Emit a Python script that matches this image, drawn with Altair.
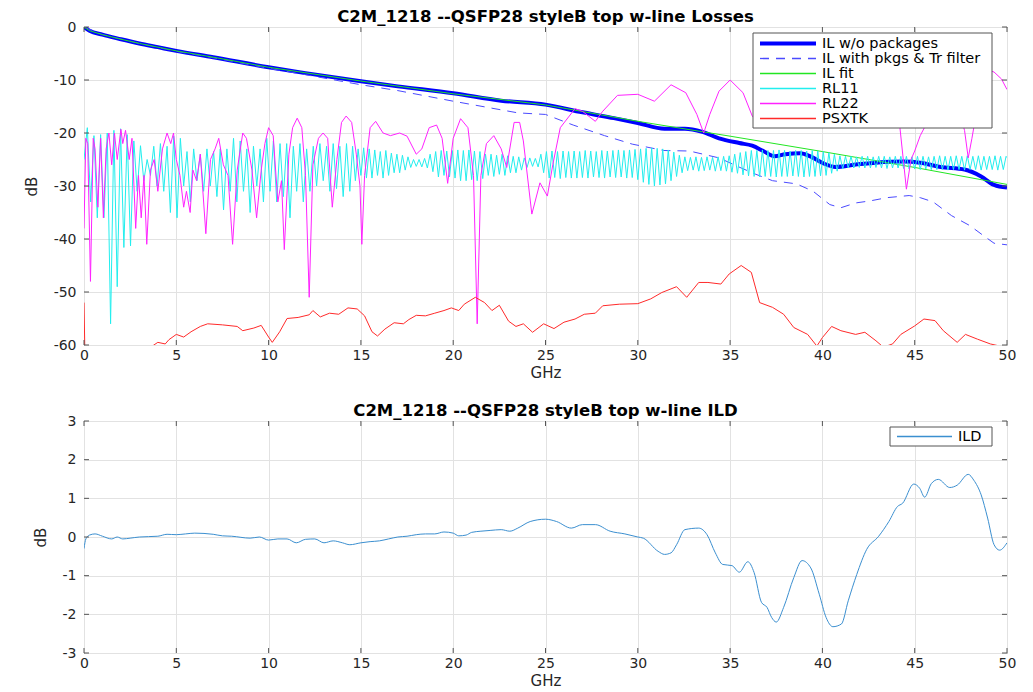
import altair as alt
import pandas as pd

# ---------------- data ----------------
X_TICKS = [0, 5, 10, 15, 20, 25, 30, 35, 40, 45, 50]
TOP_Y_TICKS = [-60, -50, -40, -30, -20, -10, 0]
BOT_Y_TICKS = [-3, -2, -1, 0, 1, 2, 3]

TOP_TITLE = "C2M_1218 --QSFP28 styleB top w-line Losses"
BOT_TITLE = "C2M_1218 --QSFP28 styleB top w-line ILD"

# (GHz, dB)
IL_NOPKG = [(0, 0), (0.3, -0.7), (1, -1.45), (2, -2.3), (3, -3.1), (4, -3.8), (5, -4.5),
            (7, -5.7), (10, -7.6), (12, -8.7), (15, -10.25), (17, -11.2), (20, -12.5),
            (22.6, -13.9), (25, -14.65), (27, -16.1), (28.7, -17.2), (30, -18.1),
            (31.45, -19.2), (32.55, -19.2), (33.5, -19.8), (34.4, -21.0), (35.5, -21.9),
            (36.2, -22.4), (36.8, -23.4), (37.4, -24.4), (38.0, -24.0), (38.8, -23.8),
            (39.4, -24.5), (40.1, -25.8), (40.7, -26.4), (41.9, -25.9), (42.9, -25.6),
            (44.4, -25.4), (45.3, -25.6), (46.4, -26.4), (47.7, -26.9), (48.6, -28.2),
            (49.3, -29.8), (50, -30.3)]

IL_PKG = [(0, 0), (1, -1.45), (3, -3.1), (5, -4.6), (7, -5.8), (10, -7.8), (12, -9.0),
          (15, -10.9), (17, -12.0), (20, -14.0), (23.5, -16.2), (25, -16.5), (26.5, -18.5),
          (28.2, -20.5), (29.7, -22.1), (31.4, -23.3), (32.8, -23.4), (34.4, -24.7),
          (35.6, -26.6), (36.4, -27.8), (37.3, -29.0), (38.6, -29.6), (39.5, -31.0),
          (40.4, -33.5), (41.0, -34.1), (41.8, -33.2), (42.6, -32.8), (43.5, -32.2),
          (44.7, -31.8), (45.3, -32.2), (46.0, -33.0), (47.0, -35.6), (48.0, -37.5),
          (48.7, -39.3), (49.3, -40.8), (50, -41.1)]

IL_FIT = [(0, 0), (0.3, -0.7), (1, -1.45), (2, -2.3), (3, -3.1), (5, -4.5), (7, -5.7),
          (10, -7.6), (15, -10.2), (20, -12.6), (25, -14.7), (30, -17.8), (35, -20.6),
          (40, -23.5), (45, -26.5), (50, -29.7)]

# RL11 ripple, alternating peaks and troughs.
# Low band: one value every 0.18 GHz from 0 GHz.
RL11_LOW_STEP = 0.18
RL11_LOW = [
    -25, -19, -33, -20.5, -36, -20.3, -36, -20, -56, -19.5, -49, -19.2, -41.6, -20.3, -41.3, -21.5, -31, -22.4, -29, -25,
    -28, -22.5, -30, -22, -31, -22.5, -35, -20.6, -36, -21, -30, -23.5, -33, -23, -29, -24, -31, -23, -30, -23.5,
    -32, -23, -34.5, -23, -31, -21, -33, -21.5, -31, -23, -35, -22.5, -30, -23, -33, -21, -31, -21.5, -33, -22,
    -32, -22, -36, -22.5, -31, -22, -33, -23, -31, -22.5, -30, -22, -29, -22.5, -31, -22, -30.5, -22.5, -32, -22,
    -31,
]
# High band: one value every 0.15 GHz from 14.55 GHz.
RL11_HIGH_START = 14.55
RL11_HIGH_STEP = 0.15
RL11_HIGH = [
    -22.5, -29, -23, -28, -22.8, -28.5, -23, -28.5, -23.2, -28, -23.5, -28.5, -23.3, -28, -23.8, -27.5, -24, -27.5, -24.2, -27,
    -24.5, -26.5, -25, -26.3, -25, -26.4, -24.8, -26.6, -24, -27.3, -23.5, -28.3, -23.3, -28, -23.4, -28.3, -23.3, -28.5, -23.2, -29,
    -23.3, -29, -23.2, -28.8, -23.4, -29, -23.5, -28.6, -24, -28, -24, -28.2, -24.2, -27.8, -24, -28, -24.3, -27.5, -24.4, -27.5,
    -24.5, -27, -24.7, -26.5, -24.7, -26.3, -24.8, -26.4, -24, -27.5, -23.5, -28.5, -23.4, -28.4, -23.5, -28.6, -23.4, -28.4, -23.5, -28.5,
    -23.4, -28.5, -23.5, -28.4, -23.3, -28.5, -23.4, -28.3, -23.5, -28.4, -23.3, -28.5, -23.4, -28.3, -23.3, -28.4, -23.2, -28.3, -23.3, -28.5,
    -23.2, -28.4, -23.1, -28.8, -23, -29.3, -22.9, -29.7, -22.8, -30, -22.9, -29.8, -23, -29.6, -23.2, -29, -23.6, -28.2, -24.2, -27.5,
    -24.5, -27.1, -24.6, -27, -24.5, -27.2, -24.6, -27.1, -24.5, -27, -24.6, -27.2, -24.5, -27.1, -24.4, -27.2, -24.3, -27.4, -24, -27.6,
    -23.7, -27.9, -23.5, -28.1, -23.3, -28.2, -23.3, -28.3, -23.2, -28.2, -23.3, -28.2, -23.3, -28.3, -23.2, -28.2, -23.3, -28.2, -23.4, -28.1,
    -23.3, -28.2, -23.3, -28.3, -23.4, -28.2, -23.3, -28.2, -23.4, -28.1, -23.5, -28, -23.7, -27.6, -24, -27.2, -24.3, -26.8, -24.4, -26.6,
    -24.4, -26.6, -24.5, -26.5, -24.4, -26.6, -24.4, -26.6, -24.5, -26.5, -24.4, -26.6, -24.4, -26.7, -24.5, -26.6, -24.4, -26.6, -24.4, -26.7,
    -24.4, -26.8, -24.5, -26.8, -24.4, -26.9, -24.4, -26.8, -24.5, -26.9, -24.4, -26.9, -24.3, -26.9, -24.4, -27, -24.4, -26.9, -24.3, -26.9,
    -24.4, -27, -24.3, -26.9, -24.4, -26.9, -24.3, -27, -24.4, -26.9, -24.4, -26.9, -24.3, -27, -24.4, -26.9, -24.4, -25,
]

RL22 = [(0.0, -38), (0.1, -21), (0.2, -22), (0.35, -48), (0.5, -21), (0.6, -23), (0.75, -34),
        (0.9, -21), (1.05, -36), (1.2, -23), (1.35, -20), (1.5, -26), (1.65, -20), (1.8, -25),
        (2.0, -19.3), (2.1, -22), (2.25, -19.5), (2.45, -25), (2.6, -21), (2.8, -38), (2.95, -28),
        (3.1, -36), (3.25, -28), (3.4, -41), (3.6, -27), (3.8, -25), (4.0, -31), (4.25, -23),
        (4.5, -20), (4.7, -22), (4.85, -20), (5.0, -25), (5.2, -28), (5.4, -34), (5.55, -31),
        (5.75, -35), (5.9, -27), (6.1, -29), (6.3, -24), (6.6, -39), (6.85, -25), (7.1, -23),
        (7.3, -21), (7.55, -26), (7.8, -28), (8.05, -41), (8.3, -27), (8.6, -20), (8.8, -21),
        (9.1, -27), (9.35, -36), (9.6, -27), (9.8, -22), (10.0, -19), (10.25, -20.5), (10.5, -33),
        (10.7, -29), (10.85, -42), (11.1, -24), (11.3, -19), (11.55, -17.2), (11.8, -19),
        (12.0, -28), (12.2, -51), (12.4, -26), (12.7, -21), (12.95, -20), (13.2, -21),
        (13.45, -34), (13.7, -25), (13.95, -18), (14.2, -16.8), (14.5, -18), (14.75, -24),
        (14.95, -30), (15.05, -41), (15.2, -28), (15.5, -19), (15.8, -17.8), (16.2, -20),
        (16.6, -20.5), (17.1, -20), (17.5, -20.6), (18.0, -24), (18.3, -23), (18.7, -19),
        (19.1, -18.5), (19.4, -21), (19.7, -29.5), (20.0, -21), (20.4, -17.3), (20.8, -19),
        (21.1, -28), (21.3, -56), (21.5, -28), (21.8, -22), (22.2, -20.5), (22.6, -23),
        (22.9, -26.5), (23.3, -18), (23.6, -18), (23.8, -21.5), (24.26, -35.3), (24.7, -29.4),
        (25.1, -31.9), (25.4, -25.9), (25.8, -19), (26.6, -15.4), (27.0, -15.9), (27.7, -17.8),
        (28.1, -15.9), (28.9, -12.9), (30.0, -12.7), (30.9, -14), (31.8, -10.9), (32.6, -12.4),
        (33.2, -16.5), (33.57, -20), (33.9, -16.5), (34.4, -12.1), (35.0, -10), (35.7, -12.4),
        (36.2, -16.8), (36.6, -18.5), (37.2, -14), (38.0, -10.5), (38.8, -9.5), (39.5, -12),
        (40.1, -17), (40.6, -13), (41.4, -9), (42.3, -8.5), (43.1, -11), (43.8, -15.5),
        (44.2, -19), (44.55, -30.6), (44.8, -25), (45.0, -23.4), (45.3, -20.5), (45.6, -18.5),
        (46.2, -15), (46.8, -13), (47.4, -16), (47.7, -19.5), (47.9, -24.7), (48.1, -21),
        (48.3, -17), (48.6, -10), (48.9, -8), (49.3, -8.5), (49.7, -9.8), (50.0, -11.8)]

PSXTK = [(0, -52), (0.05, -62), (3.7, -60.2), (4.0, -59.5), (4.4, -59.8), (4.6, -59), (5.0, -58),
         (5.4, -58.5), (5.8, -57.5), (6.3, -56.5), (6.7, -56), (7.5, -56.2), (8.3, -56.5),
         (8.6, -57.3), (9.2, -56.8), (9.6, -56.3), (10.0, -58.5), (10.2, -59.5), (10.6, -57.5),
         (11.0, -55), (11.6, -54.8), (12.2, -54.3), (12.4, -53.5), (12.8, -54.7), (13.3, -54),
         (13.8, -54.2), (14.3, -53), (14.8, -53.2), (15.2, -54.5), (15.6, -57.5), (15.9, -58.3),
         (16.3, -57), (16.8, -55.8), (17.3, -56), (17.6, -55.2), (18.0, -54.4), (18.5, -54.5),
         (19.0, -54), (19.5, -53.5), (19.9, -53), (20.3, -53.5), (20.6, -52.3), (21.2, -51),
         (21.7, -52), (22.1, -53.5), (22.5, -52.5), (23.0, -55.5), (23.4, -56.5), (23.8, -56),
         (24.3, -57.6), (24.9, -56), (25.46, -56.9), (26.0, -55.7), (26.6, -55.1), (27.1, -54.2),
         (27.7, -54), (28.1, -52.6), (29.0, -52.3), (30.0, -52.2), (30.7, -51.3), (31.3, -50.1),
         (32.1, -49), (32.65, -51), (33.3, -48.2), (33.8, -48.2), (34.5, -48.5), (34.95, -46.6),
         (35.6, -45), (36.15, -46.3), (36.6, -52), (37.3, -52.9), (37.9, -54.2), (38.45, -56.7),
         (39.2, -58), (39.7, -60.2), (40.0, -58.6), (40.5, -56.5), (41.0, -57.3), (41.8, -58),
         (42.3, -57.6), (42.9, -59.2), (43.3, -60.4), (43.8, -59.8), (44.25, -58), (45.0, -56.4),
         (45.5, -55.1), (46.1, -55.4), (46.55, -57.3), (47.3, -59.5), (47.75, -58), (48.4, -58.9),
         (49.1, -59.8), (50.0, -60.5)]

ILD = [(0, -0.3), (0.1, -0.05), (0.3, 0.05), (0.6, 0.08), (1.0, 0.02), (1.5, -0.05), (1.8, 0.0),
       (2.1, -0.05), (2.5, -0.03), (3.0, 0.0), (4.0, 0.02), (4.5, 0.07), (5.0, 0.06), (5.5, 0.08),
       (6.0, 0.1), (7.0, 0.07), (7.5, 0.03), (8.0, 0.02), (9.0, -0.03), (9.5, 0.0), (10.0, -0.08),
       (10.5, -0.05), (11.0, -0.05), (11.5, -0.15), (12.0, -0.06), (12.5, -0.05), (13.0, -0.15),
       (13.5, -0.1), (14.0, -0.15), (14.4, -0.2), (15.0, -0.15), (15.5, -0.12), (16.0, -0.1),
       (16.5, -0.05), (17.0, 0.0), (17.5, 0.02), (18.0, 0.06), (18.5, 0.08), (19.0, 0.08),
       (19.5, 0.13), (20.0, 0.1), (20.3, 0.03), (20.7, 0.05), (21.0, 0.12), (21.5, 0.15),
       (22.0, 0.17), (22.6, 0.19), (23.07, 0.15), (23.5, 0.23), (24.17, 0.4), (25.0, 0.46),
       (25.6, 0.4), (26.4, 0.23), (27.0, 0.32), (27.7, 0.32), (28.5, 0.15), (29.3, 0.08),
       (30.0, 0.0), (30.3, -0.03), (31.1, -0.37), (31.45, -0.45), (31.8, -0.41), (32.1, -0.2),
       (32.55, 0.19), (33.3, 0.23), (33.75, 0.06), (34.2, -0.41), (34.6, -0.71), (35.1, -0.74),
       (35.5, -0.91), (35.96, -0.64), (36.3, -0.92), (36.7, -1.69), (37.0, -1.82), (37.25, -2.08),
       (37.5, -2.2), (37.9, -1.82), (38.45, -1.05), (38.9, -0.61), (39.37, -0.8), (39.83, -1.48),
       (40.2, -2.08), (40.57, -2.32), (41.03, -2.25), (41.4, -1.65), (41.86, -0.97), (42.4, -0.32),
       (43.05, 0.02), (43.6, 0.4), (44.07, 0.79), (44.34, 0.87), (44.95, 1.37), (45.27, 1.26),
       (45.54, 1.03), (45.9, 1.38), (46.28, 1.49), (46.9, 1.28), (47.3, 1.34), (47.9, 1.62),
       (48.2, 1.47), (48.6, 1.09), (48.95, 0.49), (49.3, -0.2), (49.6, -0.34), (50.0, -0.15)]

# label, colour, stroke width, dash
TOP_SERIES = [
    ("IL w/o packages", "#0000ff", 4, None),
    ("IL with pkgs & Tr filter", "#4a4aff", 1, [9, 7]),
    ("IL fit", "#22e622", 1, None),
    ("RL11", "#22eeee", 1, None),
    ("RL22", "#ff22ff", 1, None),
    ("PSXTK", "#ff2a2a", 1, None),
]
BOT_SERIES = [("ILD", "#3b8fd0", 1, None)]

# ---------------- styling ----------------
FONT = "DejaVu Sans"
INK = "#262626"
FRAME = "#555555"
TOP_W, TOP_H = 923, 318
BOT_H = 232


def pairs_df(pairs):
    return pd.DataFrame(pairs, columns=["f", "v"])


rl11_f = [round(i * RL11_LOW_STEP, 3) for i in range(len(RL11_LOW))] + \
         [round(RL11_HIGH_START + i * RL11_HIGH_STEP, 3) for i in range(len(RL11_HIGH))]
rl11_df = pd.DataFrame({"f": rl11_f, "v": RL11_LOW + RL11_HIGH})

top_frames = [pairs_df(IL_NOPKG), pairs_df(IL_PKG), pairs_df(IL_FIT), rl11_df,
              pairs_df(RL22), pairs_df(PSXTK)]
top_interp = ["monotone", "linear", "linear", "linear", "linear", "linear"]
ONE = pd.DataFrame({"k": [0]})


def xenc(field):
    return alt.X(field, type="quantitative",
                 scale=alt.Scale(domain=[0, 50], nice=False, zero=False),
                 axis=alt.Axis(values=X_TICKS, title="GHz", labelExpr="'' + datum.value"))


def yenc(field, dom, ticks):
    return alt.Y(field, type="quantitative",
                 scale=alt.Scale(domain=dom, nice=False, zero=False),
                 axis=alt.Axis(values=ticks, title="dB", labelExpr="'' + datum.value"))


def tick_layers(dom, yticks, w, h):
    xt = pd.DataFrame({"t": X_TICKS})
    yt = pd.DataFrame({"t": yticks})
    L = 5
    common = dict(color=FRAME, strokeWidth=1)
    return [
        alt.Chart(xt).mark_rule(**common).encode(x=xenc("t"), y=alt.value(0), y2=alt.value(L)),
        alt.Chart(xt).mark_rule(**common).encode(x=xenc("t"), y=alt.value(h - L), y2=alt.value(h)),
        alt.Chart(yt).mark_rule(**common).encode(y=yenc("t", dom, yticks), x=alt.value(0), x2=alt.value(L)),
        alt.Chart(yt).mark_rule(**common).encode(y=yenc("t", dom, yticks), x=alt.value(w - L), x2=alt.value(w)),
    ]


def title_layer(text, w, gap):
    return alt.Chart(ONE).mark_text(text=text, font=FONT, fontSize=16.5, fontWeight="bold",
                                    color="black", align="center", baseline="alphabetic").encode(
        x=alt.value(w / 2), y=alt.value(-gap))


def legend_layers(entries, box, line_x, text_x, row0, row_step):
    layers = [alt.Chart(ONE).mark_rect(color="white", fill="white", fillOpacity=1, opacity=1,
                                       stroke=FRAME, strokeWidth=1).encode(
        x=alt.value(box[0]), x2=alt.value(box[1]), y=alt.value(box[2]), y2=alt.value(box[3]))]
    for i, (label, color, width, dash) in enumerate(entries):
        yy = row0 + i * row_step
        kw = dict(color=color, stroke=color, strokeWidth=max(width, 1.3), opacity=1)
        if dash:
            kw["strokeDash"] = dash
        layers.append(alt.Chart(ONE).mark_rule(**kw).encode(
            x=alt.value(line_x[0]), x2=alt.value(line_x[1]), y=alt.value(yy)))
        layers.append(alt.Chart(ONE).mark_text(text=label, align="left", baseline="middle",
                                               font=FONT, fontSize=14.5, color="black").encode(
            x=alt.value(text_x), y=alt.value(yy)))
    return layers


# ---------------- top panel ----------------
TOP_DOM = [-60, 0]
top_layers = []
for (label, color, width, dash), df, interp in zip(TOP_SERIES, top_frames, top_interp):
    kw = dict(color=color, strokeWidth=width, clip=True, interpolate=interp)
    if dash:
        kw["strokeDash"] = dash
    top_layers.append(alt.Chart(df).mark_line(**kw).encode(
        x=xenc("f"), y=yenc("v", TOP_DOM, TOP_Y_TICKS)))
top_layers += tick_layers(TOP_DOM, TOP_Y_TICKS, TOP_W, TOP_H)
top_layers += legend_layers(TOP_SERIES, (669, 908, 6, 101), (676, 732), 738, 16.5, 15)
top_layers.append(title_layer(TOP_TITLE, TOP_W, 5))

top = alt.layer(*top_layers).properties(width=TOP_W, height=TOP_H)

# ---------------- bottom panel ----------------
BOT_DOM = [-3, 3]
bot_layers = [alt.Chart(pairs_df(ILD)).mark_line(
    color=BOT_SERIES[0][1], strokeWidth=1, clip=True, interpolate="monotone").encode(
    x=xenc("f"), y=yenc("v", BOT_DOM, BOT_Y_TICKS))]
bot_layers += tick_layers(BOT_DOM, BOT_Y_TICKS, TOP_W, BOT_H)
bot_layers += legend_layers(BOT_SERIES, (806, 908, 6, 25), (813, 868), 874, 15.5, 15)
bot_layers.append(title_layer(BOT_TITLE, TOP_W, 5))

bottom = alt.layer(*bot_layers).properties(width=TOP_W, height=BOT_H)

chart = alt.vconcat(top, bottom, spacing=21).properties(
    padding={"left": 15, "top": 0, "right": 5, "bottom": 0}
).configure_view(
    stroke=FRAME, strokeWidth=1
).configure_axis(
    grid=True, gridColor="#e2e2e2", gridWidth=1, domain=False, ticks=False,
    labelFont=FONT, labelFontSize=14, labelColor=INK, labelFlush=False, labelOverlap=False,
    titleFont=FONT, titleFontSize=15, titleFontWeight="normal", titleColor=INK,
).configure_axisX(
    labelPadding=3, titlePadding=3
).configure_axisY(
    labelPadding=8, titlePadding=14
)

chart.save("out.html", embed_options={"renderer": "svg", "actions": False})
